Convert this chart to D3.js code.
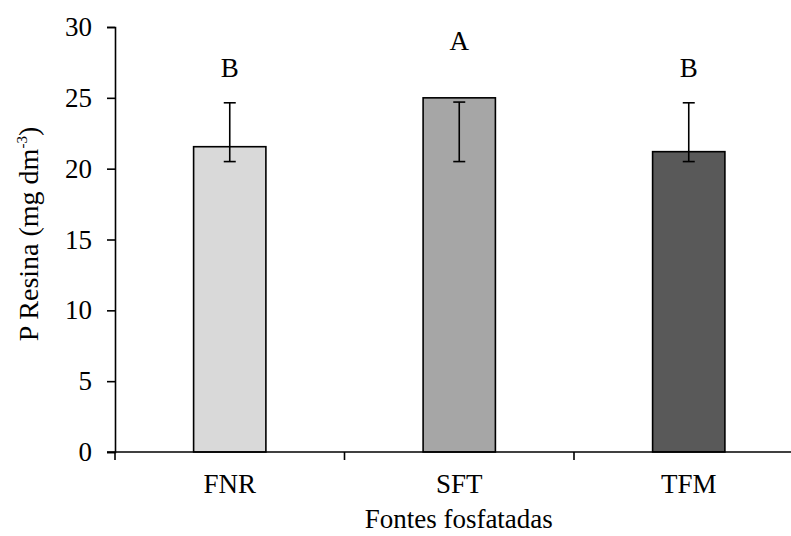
<!DOCTYPE html>
<html>
<head>
<meta charset="utf-8">
<script src="https://cdn.jsdelivr.net/npm/d3@7"></script>
<style>
  html, body { margin: 0; padding: 0; background: #fff; }
  svg text { font-family: "Liberation Serif", "Times New Roman", Times, "DejaVu Serif", serif !important; fill: #000; }
</style>
</head>
<body>
<svg id="chart" width="791" height="536"></svg>
<script>
// Resin-extractable P by phosphate source
const categories = ["FNR", "SFT", "TFM"];
const means = [21.55, 25.0, 21.2];
const errLow = [20.5, 20.5, 20.5];
const errHigh = [24.65, 24.7, 24.65];
const letters = ["B", "A", "B"];
const letterValues = [26.45, 28.4, 26.45];
const fills = ["#d9d9d9", "#a6a6a6", "#595959"];
const yTicks = [0, 5, 10, 15, 20, 25, 30];

const svg = d3.select("#chart");
const margin = { left: 115, top: 27, bottom: 452 };
const plotRight = 803.5;

const x = d3.scaleBand().domain(categories).range([margin.left, plotRight]).paddingInner(0.685).paddingOuter(0.3425);
const y = d3.scaleLinear().domain([0, 30]).range([margin.bottom, margin.top]);

const fontSize = 27;

// y axis
const yAxis = svg.append("g").attr("transform", `translate(${margin.left},0)`)
  .call(d3.axisLeft(y).tickValues(yTicks).tickSize(8).tickPadding(15));
yAxis.select(".domain").attr("stroke", "#000").attr("stroke-width", 1.6);
yAxis.selectAll(".tick line").attr("stroke", "#000").attr("stroke-width", 1.6);
yAxis.selectAll(".tick text").attr("font-size", fontSize);

// bars
svg.append("g").selectAll("rect").data(categories).join("rect")
  .attr("x", d => x(d))
  .attr("y", (d, i) => y(means[i]))
  .attr("width", x.bandwidth())
  .attr("height", (d, i) => y(0) - y(means[i]))
  .attr("fill", (d, i) => fills[i])
  .attr("stroke", "#000")
  .attr("stroke-width", 1.6);

// error bars
const eb = svg.append("g").attr("stroke", "#000").attr("stroke-width", 1.6);
categories.forEach((c, i) => {
  const cx = x(c) + x.bandwidth() / 2;
  eb.append("line").attr("x1", cx).attr("x2", cx).attr("y1", y(errLow[i])).attr("y2", y(errHigh[i]));
  eb.append("line").attr("x1", cx - 6).attr("x2", cx + 6).attr("y1", y(errLow[i])).attr("y2", y(errLow[i]));
  eb.append("line").attr("x1", cx - 6).attr("x2", cx + 6).attr("y1", y(errHigh[i])).attr("y2", y(errHigh[i]));
});

// x axis
const xAxis = svg.append("g").attr("transform", `translate(0,${margin.bottom})`)
  .call(d3.axisBottom(x).tickSize(0).tickPadding(22));
xAxis.select(".domain").remove();
xAxis.selectAll(".tick text").attr("font-size", fontSize);
svg.append("line").attr("x1", margin.left - 8).attr("x2", plotRight)
  .attr("y1", margin.bottom).attr("y2", margin.bottom)
  .attr("stroke", "#000").attr("stroke-width", 1.6);
// category boundary ticks
const step = x.step();
const bounds = d3.range(0, categories.length + 1).map(k => margin.left + k * step);
svg.append("g").selectAll("line").data(bounds).join("line")
  .attr("x1", d => d).attr("x2", d => d)
  .attr("y1", margin.bottom).attr("y2", margin.bottom + 8)
  .attr("stroke", "#000").attr("stroke-width", 1.6);

// significance letters
svg.append("g").selectAll("text").data(categories).join("text")
  .attr("x", d => x(d) + x.bandwidth() / 2)
  .attr("y", (d, i) => y(letterValues[i]))
  .attr("text-anchor", "middle")
  .attr("font-size", fontSize)
  .text((d, i) => letters[i]);

// axis titles
svg.append("text")
  .attr("x", (margin.left + plotRight) / 2 - 0.5)
  .attr("y", 528)
  .attr("text-anchor", "middle")
  .attr("font-size", fontSize)
  .text("Fontes fosfatadas");

const yl = svg.append("text")
  .attr("transform", `translate(38,234) rotate(-90)`)
  .attr("text-anchor", "middle")
  .attr("font-size", 28);
yl.append("tspan").text("P Resina (mg dm");
yl.append("tspan").attr("font-size", 15).attr("dy", -11).text("-3");
yl.append("tspan").attr("dy", 11).text(")");
</script>
</body>
</html>
